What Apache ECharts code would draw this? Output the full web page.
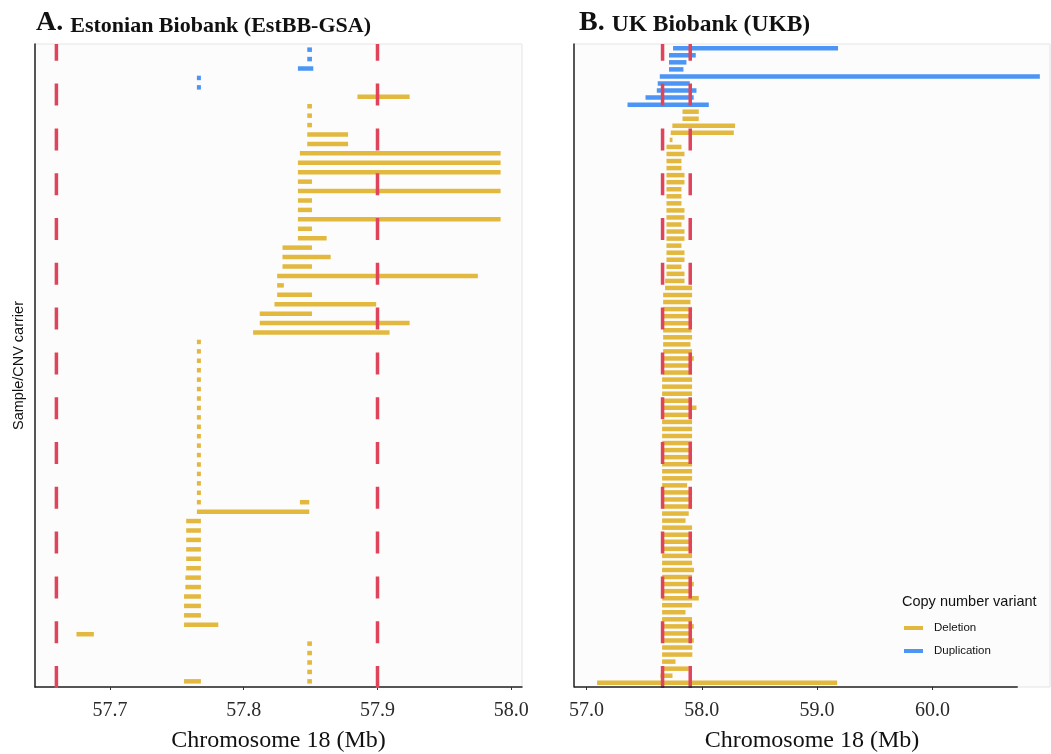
<!DOCTYPE html>
<html>
<head>
<meta charset="utf-8">
<script src="https://cdn.jsdelivr.net/npm/echarts@6/dist/echarts.min.js"></script>
<style>
  html, body { margin: 0; padding: 0; background: #fff; }
  #chart { width: 1051px; height: 754px; }
</style>
</head>
<body>
<div id="chart"></div>
<script>
// breakpoints of the region (red dashed lines), Mb
const breakpoints = [57.66, 57.90]

// EstBB rows: [row from top, start Mb, end Mb]
const estDup = [
  [0, 57.8475, 57.851], [1, 57.8475, 57.851], [2, 57.8405, 57.852],
  [3, 57.765, 57.768], [4, 57.765, 57.768]
]
const estDel = [
  [5, 57.885, 57.924], [6, 57.8475, 57.851], [7, 57.8475, 57.851], [8, 57.8475, 57.851],
  [9, 57.8475, 57.878], [10, 57.8475, 57.878], [11, 57.842, 57.992], [12, 57.8405, 57.992],
  [13, 57.8405, 57.992], [14, 57.8405, 57.851], [15, 57.8405, 57.992], [16, 57.8405, 57.851],
  [17, 57.8405, 57.851], [18, 57.8405, 57.992], [19, 57.8405, 57.851], [20, 57.8405, 57.862],
  [21, 57.829, 57.851], [22, 57.829, 57.865], [23, 57.829, 57.851], [24, 57.825, 57.975],
  [25, 57.825, 57.830], [26, 57.825, 57.851], [27, 57.823, 57.899], [28, 57.812, 57.851],
  [29, 57.812, 57.924], [30, 57.807, 57.909],
  [31, 57.765, 57.768], [32, 57.765, 57.768], [33, 57.765, 57.768], [34, 57.765, 57.768],
  [35, 57.765, 57.768], [36, 57.765, 57.768], [37, 57.765, 57.768], [38, 57.765, 57.768],
  [39, 57.765, 57.768], [40, 57.765, 57.768], [41, 57.765, 57.768], [42, 57.765, 57.768],
  [43, 57.765, 57.768], [44, 57.765, 57.768], [45, 57.765, 57.768], [46, 57.765, 57.768],
  [47, 57.765, 57.768], [48, 57.765, 57.768], [48, 57.842, 57.849], [49, 57.765, 57.849],
  [50, 57.757, 57.768], [51, 57.757, 57.768], [52, 57.757, 57.768], [53, 57.757, 57.768],
  [54, 57.757, 57.768], [55, 57.757, 57.768], [56, 57.7564, 57.768], [57, 57.7564, 57.768],
  [58, 57.7554, 57.768], [59, 57.7554, 57.768], [60, 57.7554, 57.768], [61, 57.7554, 57.781],
  [62, 57.675, 57.688], [63, 57.8475, 57.851], [64, 57.8475, 57.851], [65, 57.8475, 57.851],
  [66, 57.8475, 57.851], [67, 57.8475, 57.851], [67, 57.7554, 57.768]
]
const estRowCount = 68

// UKB rows: [row from top, start Mb, end Mb]
const ukbDup = [
  [0, 57.751, 59.182], [1, 57.716, 57.948], [2, 57.716, 57.867], [3, 57.716, 57.841],
  [4, 57.636, 60.932], [5, 57.618, 57.896], [6, 57.610, 57.954], [7, 57.512, 57.930],
  [8, 57.356, 58.061]
]
const ukbDel = [
  [9, 57.833, 57.974], [10, 57.833, 57.974], [11, 57.745, 58.289], [12, 57.731, 58.278],
  [13, 57.722, 57.746], [14, 57.694, 57.824], [15, 57.694, 57.850], [16, 57.694, 57.824],
  [17, 57.694, 57.824], [18, 57.694, 57.850], [19, 57.694, 57.850], [20, 57.694, 57.824],
  [21, 57.694, 57.824], [22, 57.694, 57.824], [23, 57.694, 57.850], [24, 57.694, 57.850],
  [25, 57.694, 57.824], [26, 57.694, 57.850], [27, 57.694, 57.850], [28, 57.694, 57.824],
  [29, 57.694, 57.850], [30, 57.694, 57.850], [31, 57.694, 57.824], [32, 57.694, 57.850],
  [33, 57.682, 57.850], [34, 57.682, 57.916], [35, 57.665, 57.916], [36, 57.665, 57.902],
  [37, 57.665, 57.916], [38, 57.665, 57.916], [39, 57.665, 57.916], [40, 57.665, 57.911],
  [41, 57.665, 57.916], [42, 57.665, 57.902], [43, 57.665, 57.916], [44, 57.665, 57.931],
  [45, 57.665, 57.916], [46, 57.665, 57.916], [47, 57.656, 57.916], [48, 57.656, 57.916],
  [49, 57.656, 57.916], [50, 57.656, 57.916], [51, 57.656, 57.954], [52, 57.656, 57.916],
  [53, 57.656, 57.916], [54, 57.656, 57.916], [55, 57.656, 57.916], [56, 57.656, 57.916],
  [57, 57.656, 57.916], [58, 57.656, 57.916], [59, 57.656, 57.916], [60, 57.656, 57.916],
  [61, 57.656, 57.916], [62, 57.656, 57.873], [63, 57.656, 57.916], [64, 57.656, 57.916],
  [65, 57.656, 57.916], [66, 57.656, 57.887], [67, 57.656, 57.859], [68, 57.656, 57.916],
  [69, 57.656, 57.916], [70, 57.656, 57.916], [71, 57.656, 57.916], [72, 57.656, 57.916],
  [73, 57.656, 57.916], [74, 57.656, 57.933], [75, 57.656, 57.916], [76, 57.656, 57.931],
  [77, 57.656, 57.916], [78, 57.656, 57.974], [79, 57.656, 57.916], [80, 57.656, 57.859],
  [81, 57.656, 57.916], [82, 57.656, 57.931], [83, 57.656, 57.916], [84, 57.656, 57.931],
  [85, 57.656, 57.918], [86, 57.656, 57.918], [87, 57.656, 57.772], [88, 57.656, 57.887],
  [89, 57.642, 57.746], [90, 57.092, 59.174]
]
const ukbRowCount = 91

// tick labels
const estTicks = [57.7, 57.8, 57.9, 58.0]
const ukbTicks = [57.0, 58.0, 59.0, 60.0]

const DEL = '#E2B83E'
const DUP = '#4C95F4'
const RED = '#E0445A'
const SERIF = '"Liberation Serif", "Times New Roman", serif'
const SANS = '"Liberation Sans", Arial, sans-serif'

/** one CNV = horizontal segment on its row */
function renderSeg (params, api) {
  const a = api.coord([api.value(1), api.value(0)])
  const b = api.coord([api.value(2), api.value(0)])
  return {
    type: 'line',
    shape: { x1: a[0], y1: a[1], x2: b[0], y2: b[1] },
    style: { stroke: api.visual('color'), lineWidth: 4.5, lineCap: 'butt' }
  }
}

/** dashed vertical line over the full panel height, dashes start at the bottom */
function makeBreak (rowCount) {
  return function (params, api) {
    const bottom = api.coord([api.value(0), rowCount - 0.4])
    const top = api.coord([api.value(0), -0.6])
    return {
      type: 'line',
      shape: { x1: bottom[0], y1: bottom[1] + 1, x2: top[0], y2: top[1] },
      style: { stroke: RED, lineWidth: 3.5, lineDash: [22, 22.8], lineCap: 'butt' }
    }
  }
}

function xAxisFor (idx, min, max, ticks) {
  return {
    type: 'value',
    gridIndex: idx,
    position: 'bottom',
    min: min,
    max: max,
    name: 'Chromosome 18 (Mb)',
    nameLocation: 'middle',
    nameGap: 42,
    nameTextStyle: { fontFamily: SERIF, fontSize: 24, color: '#111' },
    axisLine: { show: idx === 0, onZero: false, lineStyle: { color: '#222', width: 1.5 } },
    axisTick: { show: true, length: 3, lineStyle: { color: '#333' }, customValues: ticks },
    axisLabel: {
      customValues: ticks,
      margin: 14,
      fontFamily: SERIF,
      fontSize: 20,
      color: '#2a2a2a',
      formatter: v => v.toFixed(1)
    },
    splitLine: { show: false }
  }
}

function yAxisFor (idx, rowCount, name) {
  return {
    type: 'value',
    gridIndex: idx,
    inverse: true,
    min: -0.6,
    max: rowCount - 0.4,
    name: name,
    nameLocation: 'middle',
    nameGap: 9,
    nameTextStyle: { fontFamily: SANS, fontSize: 14.5, color: '#111' },
    axisLine: { show: true, onZero: false, lineStyle: { color: '#222', width: 1.5 } },
    axisTick: { show: false },
    axisLabel: { show: false },
    splitLine: { show: false }
  }
}

const chart = echarts.init(document.getElementById('chart'))
const option = {
  backgroundColor: '#fff',
  animation: false,
  title: [
    {
      text: '{a|A. }{b|Estonian Biobank (EstBB-GSA)}',
      left: 31,
      top: 4,
      textStyle: {
        rich: {
          a: { fontFamily: SERIF, fontWeight: 'bold', fontSize: 28, color: '#111', verticalAlign: 'bottom' },
          b: { fontFamily: SERIF, fontWeight: 'bold', fontSize: 22, color: '#111', verticalAlign: 'bottom' }
        }
      }
    },
    {
      text: '{a|B. }{b|UK Biobank (UKB)}',
      left: 574,
      top: 4,
      textStyle: {
        rich: {
          a: { fontFamily: SERIF, fontWeight: 'bold', fontSize: 28, color: '#111', verticalAlign: 'bottom' },
          b: { fontFamily: SERIF, fontWeight: 'bold', fontSize: 23.5, color: '#111', verticalAlign: 'bottom' }
        }
      }
    },
    {
      text: 'Copy number variant',
      left: 897,
      top: 589,
      textStyle: { fontFamily: SANS, fontSize: 14.5, fontWeight: 'normal', color: '#111' }
    }
  ],
  legend: {
    orient: 'vertical',
    left: 899,
    top: 616,
    itemWidth: 19,
    itemHeight: 4,
    itemGap: 9,
    data: [{ name: 'Deletion', icon: 'rect' }, { name: 'Duplication', icon: 'rect' }],
    textStyle: { fontFamily: SANS, fontSize: 11.5, color: '#111', lineHeight: 14, padding: [0, 0, 0, 6] }
  },
  grid: [
    { left: 35, top: 44, width: 487, height: 643, outerBoundsMode: 'none', show: true, backgroundColor: '#fcfcfc', borderColor: '#e4e4e4', borderWidth: 1 },
    { left: 574, top: 44, width: 476, height: 643, outerBoundsMode: 'none', show: true, backgroundColor: '#fcfcfc', borderColor: '#e4e4e4', borderWidth: 1 }
  ],
  xAxis: [
    xAxisFor(0, 57.644, 58.008, estTicks),
    xAxisFor(1, 56.892, 61.02, ukbTicks)
  ],
  yAxis: [
    yAxisFor(0, estRowCount, 'Sample/CNV carrier'),
    yAxisFor(1, ukbRowCount, '')
  ],
  series: [
    { name: 'Deletion', type: 'custom', xAxisIndex: 0, yAxisIndex: 0, itemStyle: { color: DEL }, renderItem: renderSeg, data: estDel },
    { name: 'Duplication', type: 'custom', xAxisIndex: 0, yAxisIndex: 0, itemStyle: { color: DUP }, renderItem: renderSeg, data: estDup },
    { name: 'Deletion', type: 'custom', xAxisIndex: 1, yAxisIndex: 1, itemStyle: { color: DEL }, renderItem: renderSeg, data: ukbDel },
    { name: 'Duplication', type: 'custom', xAxisIndex: 1, yAxisIndex: 1, itemStyle: { color: DUP }, renderItem: renderSeg, data: ukbDup },
    { name: 'breaksA', type: 'custom', xAxisIndex: 0, yAxisIndex: 0, renderItem: makeBreak(estRowCount), data: breakpoints.map(b => [b]), z: 5 },
    { name: 'breaksB', type: 'custom', xAxisIndex: 1, yAxisIndex: 1, renderItem: makeBreak(ukbRowCount), data: breakpoints.map(b => [b]), z: 5 },
    {
      // dark bottom axis line of panel B stops short of the panel edge
      name: 'axisB',
      type: 'custom',
      xAxisIndex: 1,
      yAxisIndex: 1,
      silent: true,
      z: 6,
      renderItem: function (params, api) {
        const a = api.coord([api.value(0), ukbRowCount - 0.4])
        const b = api.coord([api.value(1), ukbRowCount - 0.4])
        return { type: 'line', shape: { x1: a[0], y1: a[1], x2: b[0], y2: b[1] }, style: { stroke: '#222', lineWidth: 1.5 } }
      },
      data: [[56.892, 60.74]]
    }
  ]
}
chart.setOption(option)
</script>
</body>
</html>
